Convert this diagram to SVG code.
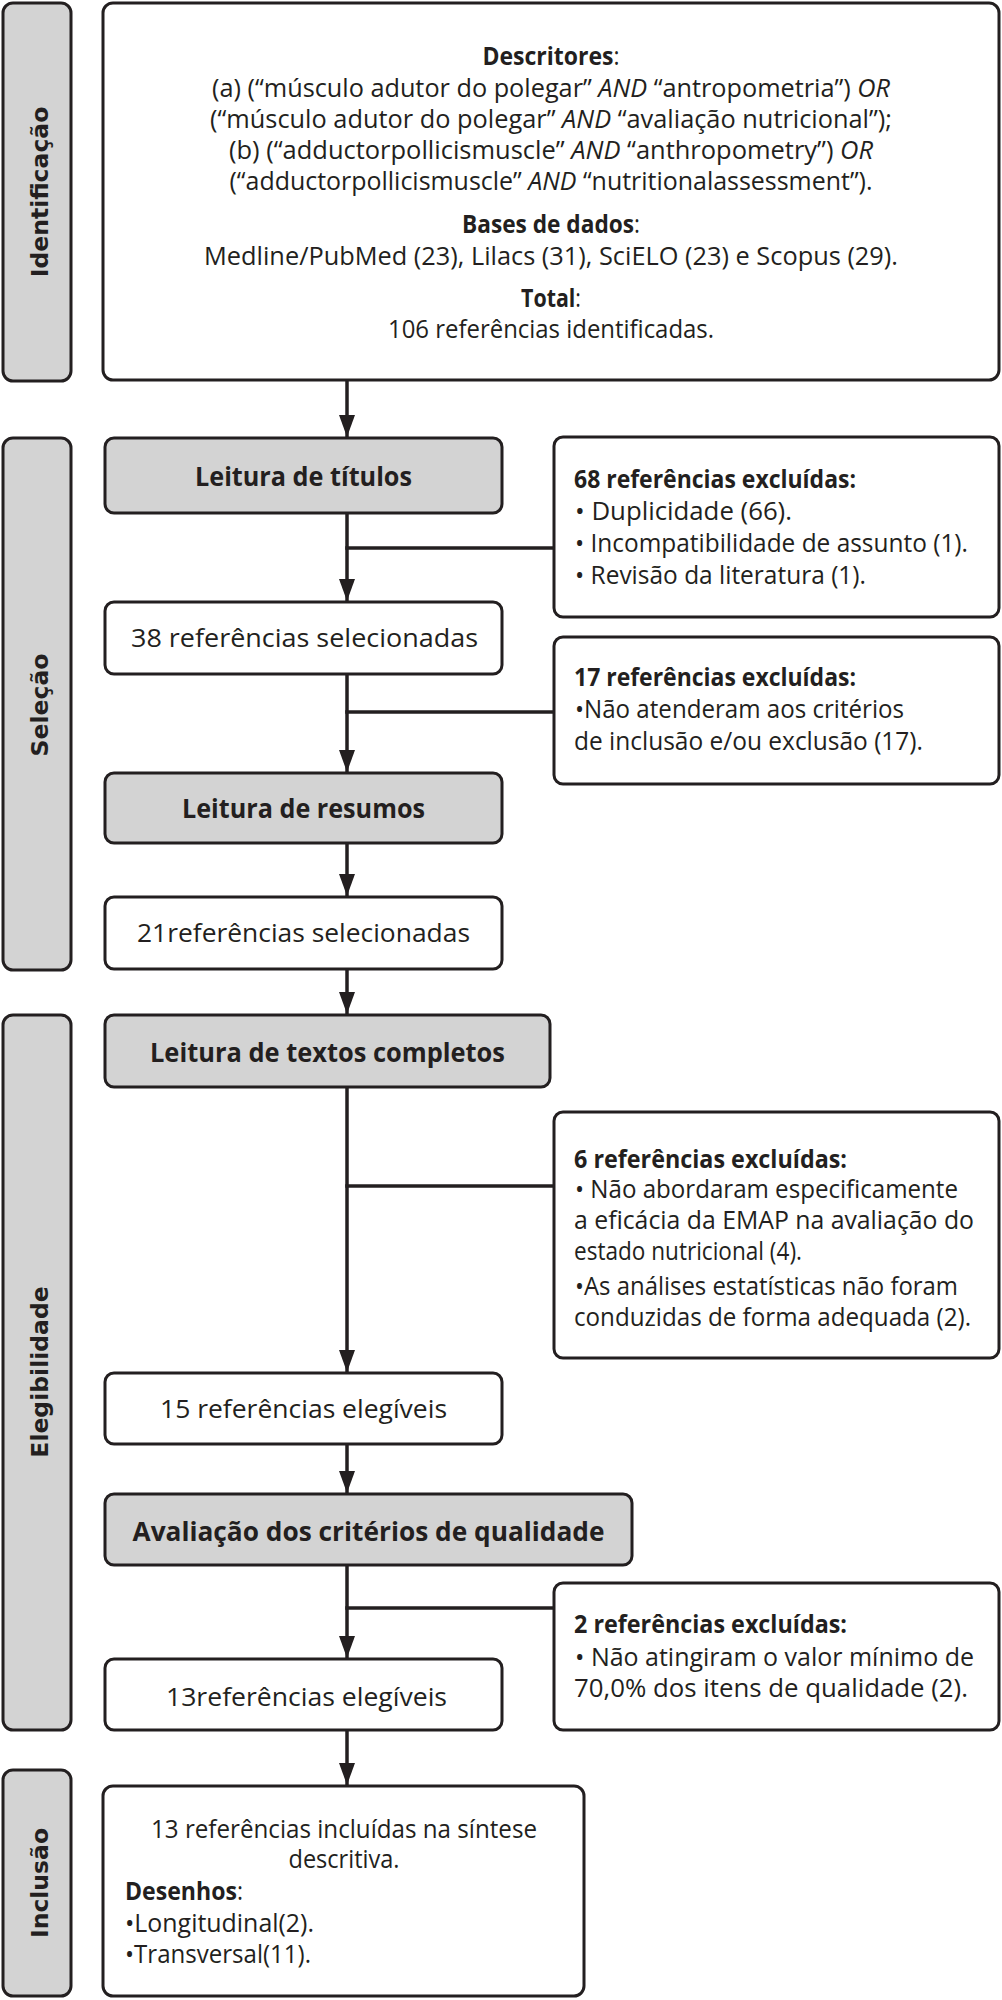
<svg xmlns="http://www.w3.org/2000/svg" width="1002" height="2000" viewBox="0 0 1002 2000">
<style>
.side{fill:#d3d3d3;stroke:#231f20;stroke-width:3}
.gray{fill:#d3d3d3;stroke:#231f20;stroke-width:3}
.white{fill:#ffffff;stroke:#231f20;stroke-width:3}
.lbl{font-family:"DejaVu Sans",Verdana,sans-serif;font-weight:bold;font-size:23.5px;fill:#231f20;text-anchor:middle}
.t{font-family:"Open Sans","Noto Sans",sans-serif;font-size:25px;fill:#231f20}
.h{font-size:27px}
.c{text-anchor:middle}
.b{font-weight:bold}
.i{font-style:italic}
.conn{stroke:#231f20;stroke-width:3.5;fill:none}
</style>
<defs>
<marker id="arr" markerUnits="userSpaceOnUse" markerWidth="22" markerHeight="16" refX="22" refY="8" orient="auto">
<path d="M0,0 L22,8 L0,16 Z" fill="#231f20"/>
</marker>
</defs>
<rect width="1002" height="2000" fill="#ffffff"/>

<g id="side-identificacao">
<rect class="side" x="3" y="3" width="68" height="378" rx="10"/>
<text class="lbl" transform="translate(48,192) rotate(-90)">Identificação</text>
</g>
<g id="side-selecao">
<rect class="side" x="3" y="438" width="68" height="532" rx="10"/>
<text class="lbl" transform="translate(48,705) rotate(-90)">Seleção</text>
</g>
<g id="side-elegibilidade">
<rect class="side" x="3" y="1015" width="68" height="715" rx="10"/>
<text class="lbl" transform="translate(48,1372) rotate(-90)">Elegibilidade</text>
</g>
<g id="side-inclusao">
<rect class="side" x="3" y="1770" width="68" height="226" rx="10"/>
<text class="lbl" transform="translate(48,1883) rotate(-90)">Inclusão</text>
</g>

<g id="identificacao">
<rect class="white" x="103" y="3" width="896" height="377" rx="10"/>
<text class="t c" x="551" y="65" textLength="137" lengthAdjust="spacingAndGlyphs"><tspan class="b">Descritores</tspan>:</text>
<text class="t c" x="551" y="97" textLength="678" lengthAdjust="spacingAndGlyphs">(a) (“músculo adutor do polegar” <tspan class="i">AND</tspan> “antropometria”) <tspan class="i">OR</tspan></text>
<text class="t c" x="551" y="128" textLength="682" lengthAdjust="spacingAndGlyphs">(“músculo adutor do polegar” <tspan class="i">AND</tspan> “avaliação nutricional”);</text>
<text class="t c" x="551" y="159" textLength="644" lengthAdjust="spacingAndGlyphs">(b) (“adductorpollicismuscle” <tspan class="i">AND</tspan> “anthropometry”) <tspan class="i">OR</tspan></text>
<text class="t c" x="551" y="190" textLength="643" lengthAdjust="spacingAndGlyphs">(“adductorpollicismuscle” <tspan class="i">AND</tspan> “nutritionalassessment”).</text>
<text class="t c" x="551" y="233" textLength="178" lengthAdjust="spacingAndGlyphs"><tspan class="b">Bases de dados</tspan>:</text>
<text class="t c" x="551" y="265" textLength="694" lengthAdjust="spacingAndGlyphs">Medline/PubMed (23), Lilacs (31), SciELO (23) e Scopus (29).</text>
<text class="t c" x="551" y="307" textLength="60" lengthAdjust="spacingAndGlyphs"><tspan class="b">Total</tspan>:</text>
<text class="t c" x="551" y="338" textLength="326" lengthAdjust="spacingAndGlyphs">106 referências identificadas.</text>
</g>

<g id="leitura-titulos">
<rect class="gray" x="105" y="438" width="397" height="75" rx="9"/>
<text class="t h c b" x="303.5" y="486" textLength="217" lengthAdjust="spacingAndGlyphs">Leitura de títulos</text>
</g>
<g id="excl-68">
<rect class="white" x="554" y="437" width="445" height="180" rx="9"/>
<text class="t b" x="574" y="488" textLength="282" lengthAdjust="spacingAndGlyphs">68 referências excluídas:</text>
<text class="t" x="575" y="520" textLength="217" lengthAdjust="spacingAndGlyphs">• Duplicidade (66).</text>
<text class="t" x="575" y="552" textLength="393" lengthAdjust="spacingAndGlyphs">• Incompatibilidade de assunto (1).</text>
<text class="t" x="575" y="584" textLength="291" lengthAdjust="spacingAndGlyphs">• Revisão da literatura (1).</text>
</g>
<g id="sel-38">
<rect class="white" x="105" y="602" width="397" height="72" rx="9"/>
<text class="t c" x="304.5" y="647" textLength="347" lengthAdjust="spacingAndGlyphs">38 referências selecionadas</text>
</g>
<g id="excl-17">
<rect class="white" x="554" y="637" width="445" height="147" rx="9"/>
<text class="t b" x="574" y="686" textLength="282" lengthAdjust="spacingAndGlyphs">17 referências excluídas:</text>
<text class="t" x="575" y="718" textLength="329" lengthAdjust="spacingAndGlyphs">•Não atenderam aos critérios</text>
<text class="t" x="574" y="750" textLength="349" lengthAdjust="spacingAndGlyphs">de inclusão e/ou exclusão (17).</text>
</g>
<g id="leitura-resumos">
<rect class="gray" x="105" y="773" width="397" height="70" rx="9"/>
<text class="t h c b" x="303.5" y="818" textLength="243" lengthAdjust="spacingAndGlyphs">Leitura de resumos</text>
</g>
<g id="sel-21">
<rect class="white" x="105" y="897" width="397" height="72" rx="9"/>
<text class="t c" x="303.5" y="942" textLength="333" lengthAdjust="spacingAndGlyphs">21referências selecionadas</text>
</g>
<g id="leitura-textos">
<rect class="gray" x="105" y="1015" width="445" height="72" rx="9"/>
<text class="t h c b" x="327.5" y="1062" textLength="355" lengthAdjust="spacingAndGlyphs">Leitura de textos completos</text>
</g>
<g id="excl-6">
<rect class="white" x="554" y="1112" width="445" height="246" rx="9"/>
<text class="t b" x="574" y="1168" textLength="273" lengthAdjust="spacingAndGlyphs">6 referências excluídas:</text>
<text class="t" x="575" y="1198" textLength="383" lengthAdjust="spacingAndGlyphs">• Não abordaram especificamente</text>
<text class="t" x="574" y="1229" textLength="400" lengthAdjust="spacingAndGlyphs">a eficácia da EMAP na avaliação do</text>
<text class="t" x="574" y="1260" textLength="228" lengthAdjust="spacingAndGlyphs">estado nutricional (4).</text>
<text class="t" x="575" y="1295" textLength="383" lengthAdjust="spacingAndGlyphs">•As análises estatísticas não foram</text>
<text class="t" x="574" y="1326" textLength="397" lengthAdjust="spacingAndGlyphs">conduzidas de forma adequada (2).</text>
</g>
<g id="eleg-15">
<rect class="white" x="105" y="1373" width="397" height="71" rx="9"/>
<text class="t c" x="303.5" y="1418" textLength="287" lengthAdjust="spacingAndGlyphs">15 referências elegíveis</text>
</g>
<g id="avaliacao">
<rect class="gray" x="105" y="1494" width="527" height="71" rx="9"/>
<text class="t h c b" x="368.5" y="1541" textLength="472" lengthAdjust="spacingAndGlyphs">Avaliação dos critérios de qualidade</text>
</g>
<g id="excl-2">
<rect class="white" x="554" y="1583" width="445" height="147" rx="9"/>
<text class="t b" x="574" y="1633" textLength="273" lengthAdjust="spacingAndGlyphs">2 referências excluídas:</text>
<text class="t" x="575" y="1666" textLength="399" lengthAdjust="spacingAndGlyphs">• Não atingiram o valor mínimo de</text>
<text class="t" x="574" y="1697" textLength="394" lengthAdjust="spacingAndGlyphs">70,0% dos itens de qualidade (2).</text>
</g>
<g id="eleg-13">
<rect class="white" x="105" y="1659" width="397" height="71" rx="9"/>
<text class="t c" x="306.5" y="1706" textLength="281" lengthAdjust="spacingAndGlyphs">13referências elegíveis</text>
</g>
<g id="inclusao">
<rect class="white" x="103" y="1786" width="481" height="210" rx="10"/>
<text class="t c" x="344" y="1838" textLength="386" lengthAdjust="spacingAndGlyphs">13 referências incluídas na síntese</text>
<text class="t c" x="344" y="1868" textLength="111" lengthAdjust="spacingAndGlyphs">descritiva.</text>
<text class="t" x="125" y="1900" textLength="118" lengthAdjust="spacingAndGlyphs"><tspan class="b">Desenhos</tspan>:</text>
<text class="t" x="125" y="1932" textLength="189" lengthAdjust="spacingAndGlyphs">•Longitudinal(2).</text>
<text class="t" x="125" y="1963" textLength="186" lengthAdjust="spacingAndGlyphs">•Transversal(11).</text>
</g>

<g id="connectors" class="conn">
<line x1="347" y1="381" x2="347" y2="437" marker-end="url(#arr)"/>
<line x1="347" y1="513" x2="347" y2="601" marker-end="url(#arr)"/>
<line x1="345.25" y1="548" x2="554" y2="548"/>
<line x1="347" y1="674" x2="347" y2="772" marker-end="url(#arr)"/>
<line x1="345.25" y1="712" x2="554" y2="712"/>
<line x1="347" y1="843" x2="347" y2="896" marker-end="url(#arr)"/>
<line x1="347" y1="969" x2="347" y2="1014" marker-end="url(#arr)"/>
<line x1="347" y1="1087" x2="347" y2="1372" marker-end="url(#arr)"/>
<line x1="345.25" y1="1186" x2="554" y2="1186"/>
<line x1="347" y1="1444" x2="347" y2="1493" marker-end="url(#arr)"/>
<line x1="347" y1="1565" x2="347" y2="1658" marker-end="url(#arr)"/>
<line x1="345.25" y1="1608" x2="554" y2="1608"/>
<line x1="347" y1="1730" x2="347" y2="1785" marker-end="url(#arr)"/>
</g>
</svg>
